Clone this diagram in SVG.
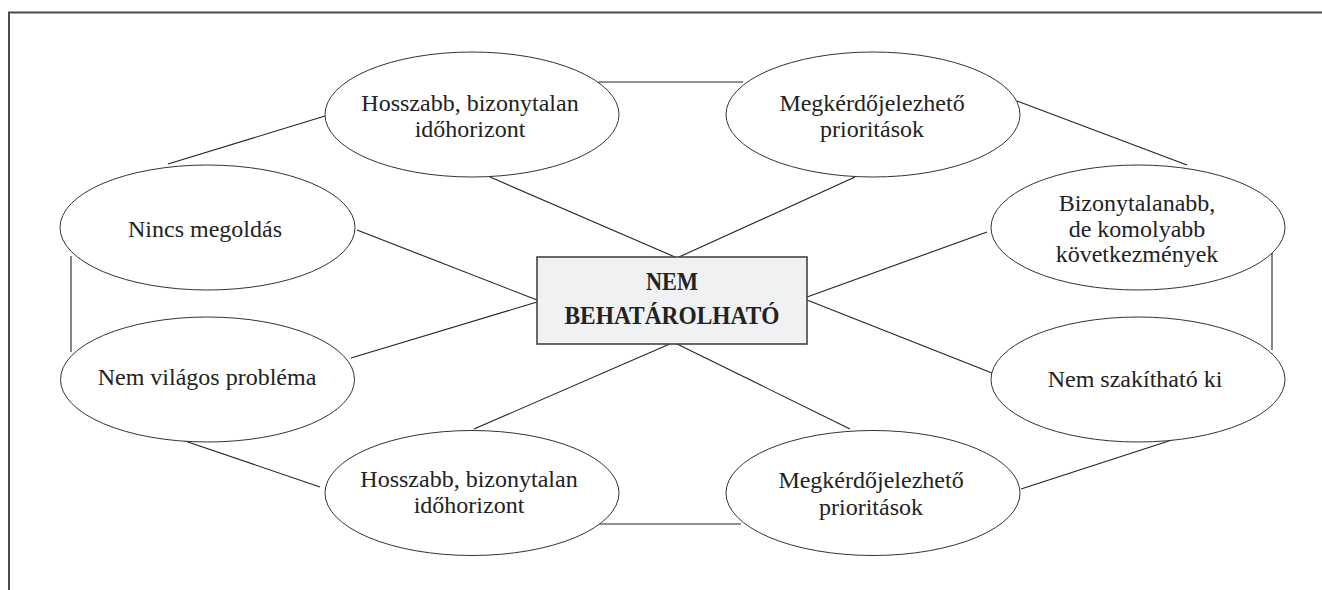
<svg xmlns="http://www.w3.org/2000/svg" width="1322" height="590" viewBox="0 0 1322 590">
  <style>
    .frame { fill: none; stroke: #4a4a4a; stroke-width: 2; }
    .link { stroke: #222; stroke-width: 1.1; fill: none; }
    .bubble { fill: #fff; stroke: #333; stroke-width: 1; }
    .core { fill: #f0f1f3; stroke: #444; stroke-width: 1.6; }
    .lbl { font-family: "Liberation Serif", "Times New Roman", serif; font-size: 24px; fill: #222; text-anchor: middle; }
    .core-lbl { font-family: "Liberation Serif", "Times New Roman", serif; font-size: 25px; font-weight: bold; fill: #222; text-anchor: middle; }
  </style>

  <rect width="1322" height="590" fill="#fff"/>
  <!-- outer frame (top and left edges visible) -->
  <path class="frame" d="M9 590 V12.5 H1322"/>

  <g id="connectors">
    <line class="link" x1="598" y1="82" x2="743" y2="82"/>
    <line class="link" x1="597" y1="524" x2="741" y2="524"/>
    <line class="link" x1="1017" y1="101" x2="1187" y2="165"/>
    <line class="link" x1="325" y1="116" x2="168" y2="164"/>
    <line class="link" x1="71" y1="256" x2="71" y2="352"/>
    <line class="link" x1="1272" y1="253" x2="1272" y2="350"/>
    <line class="link" x1="182" y1="440" x2="320" y2="487"/>
    <line class="link" x1="1021" y1="489" x2="1178" y2="438"/>
    <line class="link" x1="490" y1="177" x2="675" y2="257"/>
    <line class="link" x1="679" y1="257" x2="855" y2="177"/>
    <line class="link" x1="474" y1="429" x2="672" y2="343"/>
    <line class="link" x1="675" y1="343" x2="850" y2="429"/>
    <line class="link" x1="357" y1="230" x2="537" y2="300"/>
    <line class="link" x1="351" y1="358" x2="537" y2="302"/>
    <line class="link" x1="987" y1="232" x2="807" y2="297"/>
    <line class="link" x1="807" y1="300" x2="992" y2="373"/>
  </g>

  <g id="node-center">
    <rect class="core" x="537" y="257" width="270" height="87"/>
    <text class="core-lbl" x="672" y="290" textLength="52" lengthAdjust="spacingAndGlyphs">NEM</text>
    <text class="core-lbl" x="672" y="324" textLength="215" lengthAdjust="spacingAndGlyphs">BEHATÁROLHATÓ</text>
  </g>

  <g id="node-top-left">
    <ellipse class="bubble" cx="472" cy="114.5" rx="147" ry="62.5"/>
    <text class="lbl" x="470" y="110.5">Hosszabb, bizonytalan</text>
    <text class="lbl" x="470" y="136.5">időhorizont</text>
  </g>

  <g id="node-top-right">
    <ellipse class="bubble" cx="873" cy="114.5" rx="147" ry="62.5"/>
    <text class="lbl" x="872" y="110.5">Megkérdőjelezhető</text>
    <text class="lbl" x="872" y="137">prioritások</text>
  </g>

  <g id="node-left-upper">
    <ellipse class="bubble" cx="207.5" cy="227.5" rx="147.5" ry="62.5"/>
    <text class="lbl" x="205" y="237">Nincs megoldás</text>
  </g>

  <g id="node-left-lower">
    <ellipse class="bubble" cx="207.5" cy="379.5" rx="147" ry="62.5"/>
    <text class="lbl" x="207" y="385">Nem világos probléma</text>
  </g>

  <g id="node-right-upper">
    <ellipse class="bubble" cx="1138" cy="227.5" rx="147" ry="62.5"/>
    <text class="lbl" x="1137" y="210.5">Bizonytalanabb,</text>
    <text class="lbl" x="1137" y="237">de komolyabb</text>
    <text class="lbl" x="1137" y="262">következmények</text>
  </g>

  <g id="node-right-lower">
    <ellipse class="bubble" cx="1138" cy="379.5" rx="147" ry="62.5"/>
    <text class="lbl" x="1135" y="387">Nem szakítható ki</text>
  </g>

  <g id="node-bottom-left">
    <ellipse class="bubble" cx="472" cy="493" rx="147" ry="62.5"/>
    <text class="lbl" x="469" y="487">Hosszabb, bizonytalan</text>
    <text class="lbl" x="469" y="513">időhorizont</text>
  </g>

  <g id="node-bottom-right">
    <ellipse class="bubble" cx="873" cy="493" rx="147" ry="62.5"/>
    <text class="lbl" x="871" y="488">Megkérdőjelezhető</text>
    <text class="lbl" x="871" y="515">prioritások</text>
  </g>
</svg>
